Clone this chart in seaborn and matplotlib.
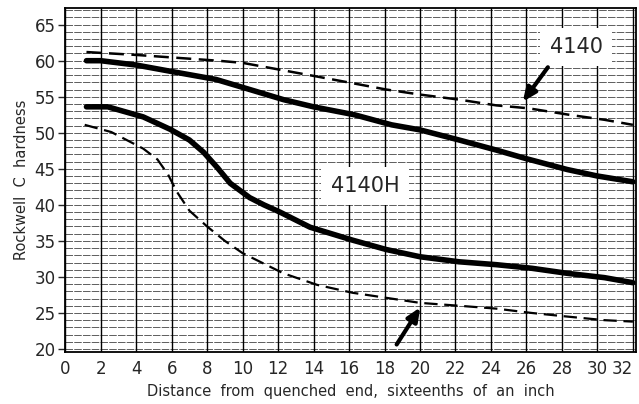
import matplotlib
matplotlib.use("Agg")
import matplotlib.pyplot as plt
import seaborn as sns
import pandas as pd
import numpy as np

# 4140H band, maximum (upper thick solid)
h_max_x = [1.2, 2, 4, 6, 8.5, 10, 12.3, 14, 16.3, 18.4, 20, 22.2, 24.3, 26, 28.3, 30, 32]
h_max_y = [60.0, 60.0, 59.4, 58.5, 57.4, 56.3, 54.6, 53.6, 52.5, 51.1, 50.4, 49.0, 47.6, 46.4, 44.9, 44.0, 43.2]
# 4140H band, minimum (lower thick solid)
h_min_x = [1.2, 2.4, 4.4, 5.9, 7.0, 7.8, 8.6, 9.3, 10.4, 11.2, 12.1, 13.8, 16.2, 18.1, 20, 22.2, 24.3, 26.3, 28.3, 30.4, 32]
h_min_y = [53.6, 53.6, 52.2, 50.5, 49.0, 47.3, 45.1, 43.0, 41.0, 40.0, 39.0, 36.9, 35.1, 33.8, 32.8, 32.1, 31.7, 31.2, 30.5, 29.9, 29.2]
# 4140 band, maximum (upper dashed)
s_max_x = [1.2, 4, 8.6, 10, 14.2, 18.1, 20, 22.2, 24.3, 26.1, 28.4, 30.4, 32]
s_max_y = [61.2, 60.8, 60.0, 59.7, 57.8, 56.0, 55.3, 54.6, 53.8, 53.4, 52.5, 51.8, 51.1]
# 4140 band, minimum (lower dashed)
s_min_x = [1.1, 2.6, 4.4, 5.2, 5.8, 6.3, 7.0, 8.0, 9.0, 10.0, 12.3, 14.2, 16.2, 18.1, 20, 22.2, 24.3, 26.3, 28.3, 30.4, 32]
s_min_y = [51.1, 50.1, 47.8, 46.3, 44.2, 41.8, 39.2, 37.0, 35.0, 33.3, 30.5, 28.9, 27.8, 27.1, 26.4, 26.0, 25.6, 25.0, 24.5, 24.0, 23.8]

x_ticks = list(range(0, 33, 2))
y_ticks = list(range(20, 66, 5))

sns.set_style("white")
plt.rcParams['font.family'] = ['DejaVu Sans']

fig = plt.figure(figsize=(6.39, 4.04), dpi=100)
ax = fig.add_axes([0.102, 0.129, 0.894, 0.851])

# grid
for yv in np.arange(20, 68, 1):
    ax.axhline(yv, color='#444444', lw=0.6, dashes=(9, 1.5), zorder=1)
for xv in x_ticks:
    ax.axvline(xv, color='black', lw=1.0, zorder=1)

def band(xs, ys, style, lw):
    df = pd.DataFrame({"x": xs, "y": ys})
    sns.lineplot(data=df, x="x", y="y", ax=ax, sort=False, color='black',
                 lw=lw, linestyle=style, zorder=3)
    ax.lines[-1].set_solid_joinstyle('round')
    ax.lines[-1].set_solid_capstyle('round')

band(h_max_x, h_max_y, '-', 4.0)
band(h_min_x, h_min_y, '-', 4.0)
band(s_max_x, s_max_y, (0, (6, 3)), 1.8)
band(s_min_x, s_min_y, (0, (6, 3)), 1.6)

ax.set_xlim(0, 32.2)
ax.set_ylim(19.6, 67.3)
ax.set_xticks(x_ticks)
ax.set_yticks(y_ticks)
ax.tick_params(axis='y', length=5, width=1, labelsize=12, pad=2, direction='out', left=True)
ax.tick_params(axis='x', length=0, labelsize=12, pad=6)
ax.get_xticklabels()[-1].set_horizontalalignment('right')
for s in ax.spines.values():
    s.set_color('black')
    s.set_linewidth(1.3)

ax.set_xlabel("Distance  from  quenched  end,  sixteenths  of  an  inch", fontsize=10.5, labelpad=4)
ax.set_ylabel("Rockwell  C  hardness", fontsize=10.5, labelpad=4)

bbox = dict(boxstyle='square,pad=0.45', fc='white', ec='none')
ax.text(28.8, 61.9, "4140", fontsize=15, ha='center', va='center', bbox=bbox, zorder=5)
ax.text(16.9, 42.6, "4140H", fontsize=15, ha='center', va='center', bbox=bbox, zorder=5)

arrowprops = dict(arrowstyle='-|>,head_length=0.8,head_width=0.35', color='black', lw=3)
ax.annotate("", xy=(25.7, 54.0), xytext=(27.3, 59.4), arrowprops=arrowprops, zorder=6)
ax.annotate("", xy=(20.1, 26.1), xytext=(18.6, 20.3), arrowprops=arrowprops, zorder=6)

fig.savefig("out.png", dpi=100)
